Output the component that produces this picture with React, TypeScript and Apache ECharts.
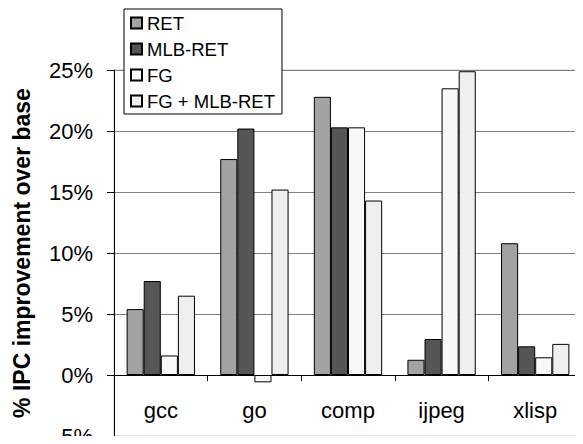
import React, { useEffect, useRef } from "react";
import * as echarts from "echarts";

const categories = ["gcc", "go", "comp", "ijpeg", "xlisp"];
const seriesNames = ["RET", "MLB-RET", "FG", "FG + MLB-RET"];
const retValues = [5.4, 17.7, 22.8, 1.25, 10.8];
const mlbRetValues = [7.7, 20.2, 20.3, 2.95, 2.35];
const fgValues = [1.6, -0.6, 20.3, 23.5, 1.45];
const fgMlbRetValues = [6.5, 15.2, 14.3, 24.9, 2.55];
const seriesColors = ["#a3a3a3", "#565656", "#f8f8f8", "#efefef"];

const FONT = "Arial, 'Liberation Sans', sans-serif";

export default function App() {
  const ref = useRef<HTMLDivElement>(null);
  useEffect(() => {
    if (!ref.current) return;
    const chart = echarts.init(ref.current, undefined, { renderer: "svg" });
    const values = [retValues, mlbRetValues, fgValues, fgMlbRetValues];
    chart.setOption({
      animation: false,
      backgroundColor: "#ffffff",
      textStyle: { fontFamily: FONT, color: "#000" },
      grid: {
        left: 114,
        right: 1,
        top: 70,
        bottom: 8,
        show: true,
        borderColor: "#c4c4c4",
        borderWidth: 1,
        backgroundColor: "transparent",
        containLabel: false,
        outerBoundsMode: "none",
      },
      legend: {
        orient: "vertical",
        left: 124,
        top: 9,
        backgroundColor: "#ffffff",
        borderColor: "#000",
        borderWidth: 1,
        padding: [4, 7, 3, 6],
        itemGap: 6,
        itemWidth: 11,
        itemHeight: 11,
        icon: "rect",
        textStyle: { fontSize: 18.5, fontFamily: FONT, color: "#000", lineHeight: 20 },
        data: seriesNames,
      },
      xAxis: {
        type: "category",
        data: categories,
        axisLine: { show: true, onZero: true, lineStyle: { color: "#000", width: 1 } },
        axisTick: { show: true, length: 6, lineStyle: { color: "#000" } },
        axisLabel: { fontSize: 22, color: "#000", margin: -37, fontFamily: FONT },
        splitLine: { show: false },
      },
      yAxis: {
        type: "value",
        min: -5,
        max: 25,
        interval: 5,
        name: "% IPC improvement over base",
        nameLocation: "middle",
        nameGap: 81,
        nameTextStyle: { fontSize: 23, fontWeight: "bold", color: "#000", fontFamily: FONT },
        axisLine: { show: true, lineStyle: { color: "#000", width: 1 } },
        axisTick: { show: true, length: 7, lineStyle: { color: "#000" } },
        axisLabel: { fontSize: 22, color: "#000", margin: 21, formatter: "{value}%", fontFamily: FONT },
        splitLine: {
          show: true,
          lineStyle: {
            color: ["#c4c4c4", "#808080", "#808080", "#808080", "#808080", "#808080", "#808080"],
            width: 1,
          },
        },
      },
      series: seriesNames.map((name, i) => ({
        name,
        type: "bar",
        data: values[i],
        barGap: "0%",
        barCategoryGap: "27%",
        itemStyle: { color: seriesColors[i], borderColor: "#000", borderWidth: 1 },
      })),
    });
    return () => chart.dispose();
  }, []);
  return <div ref={ref} style={{ width: 583, height: 444, margin: -8 }} />;
}
